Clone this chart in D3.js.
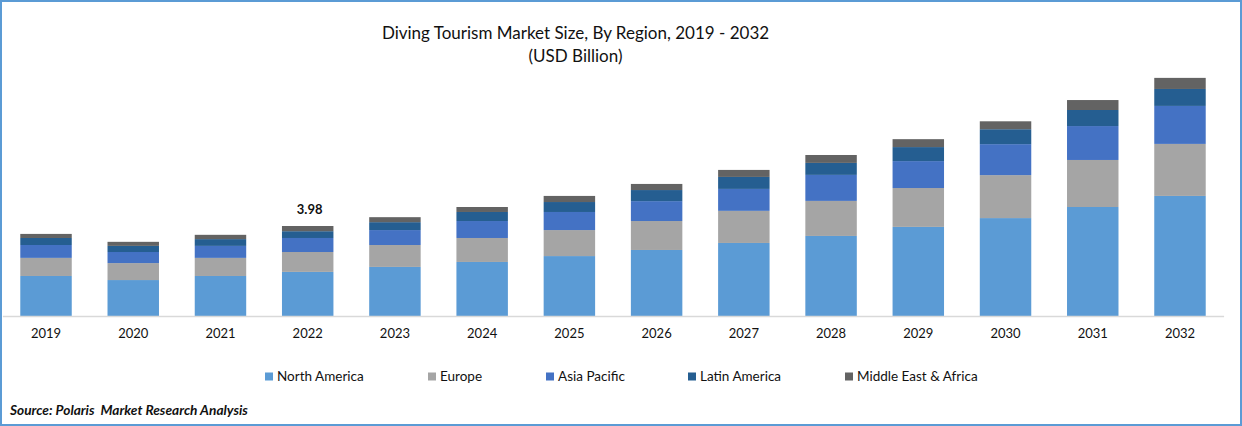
<!DOCTYPE html>
<html><head><meta charset="utf-8">
<script src="https://cdn.jsdelivr.net/npm/d3@7"></script>
<style>html,body{margin:0;padding:0;background:#fff}svg{display:block}text{font-family:Lato,sans-serif;fill:#111}</style>
</head><body><svg id="c" width="1242" height="426"></svg>
<script>
const years = ["2019","2020","2021","2022","2023","2024","2025","2026","2027","2028","2029","2030","2031","2032"];
const regions = ["North America","Europe","Asia Pacific","Latin America","Middle East & Africa"];
const colors = ["#5B9BD5","#A5A5A5","#4472C4","#255E91","#636363"];
const northAmerica = [1.77,1.59,1.77,1.95,2.17,2.39,2.65,2.92,3.23,3.54,3.94,4.33,4.82,5.31];
const europe       = [0.80,0.75,0.80,0.88,0.97,1.06,1.15,1.28,1.42,1.55,1.72,1.90,2.08,2.30];
const asiaPacific  = [0.57,0.49,0.53,0.62,0.66,0.75,0.80,0.88,0.97,1.15,1.19,1.37,1.50,1.68];
const latinAmerica = [0.31,0.27,0.30,0.30,0.35,0.40,0.44,0.49,0.53,0.53,0.62,0.66,0.71,0.75];
const middleEast   = [0.18,0.18,0.19,0.23,0.22,0.22,0.27,0.27,0.31,0.35,0.35,0.35,0.44,0.49];
const seriesValues = [northAmerica,europe,asiaPacific,latinAmerica,middleEast];
const labelYear = "2022", labelText = "3.98";

const svg = d3.select("#c");
svg.append("rect").attr("x",1).attr("y",1).attr("width",1240).attr("height",424)
  .attr("fill","#fff").attr("stroke","#5B9BD5").attr("stroke-width",2);

const x = d3.scaleBand().domain(years).range([2.4,1223.6]).paddingInner(0.41).paddingOuter(0.205);
const y = d3.scaleLinear().domain([0,3.98]).range([316,226]);
const rows = years.map((yr,i)=>{const o={year:yr};regions.forEach((r,j)=>o[r]=seriesValues[j][i]);return o;});
const stacked = d3.stack().keys(regions)(rows);

svg.append("g").selectAll("g").data(stacked).join("g").attr("fill",(d,i)=>colors[i])
  .selectAll("rect").data(d=>d).join("rect")
  .attr("x",d=>x(d.data.year)).attr("width",x.bandwidth())
  .attr("y",d=>y(d[1])).attr("height",d=>y(d[0])-y(d[1]));

const axis = svg.append("g").attr("transform","translate(0,316)")
  .call(d3.axisBottom(x).tickSize(0).tickPadding(0));
axis.select(".domain").attr("stroke","#D9D9D9").attr("stroke-width",1.5);
axis.selectAll("text").attr("y",22).attr("dy",0).attr("font-size",13).style("font-family","Lato,sans-serif");

const top2022 = d3.sum(seriesValues,s=>s[years.indexOf(labelYear)]);
svg.append("text").attr("x",x(labelYear)+x.bandwidth()/2+2).attr("y",y(top2022)-12.5)
  .attr("text-anchor","middle").attr("font-size",13).attr("font-weight",700).text(labelText);

svg.append("text").attr("x",575.5).attr("y",38.5).attr("text-anchor","middle").attr("font-size",17)
  .text("Diving Tourism Market Size, By Region, 2019 - 2032");
svg.append("text").attr("x",575.5).attr("y",62).attr("text-anchor","middle").attr("font-size",17)
  .text("(USD Billion)");

const legendX = [265,428,546,688,845];
const lg = svg.append("g").selectAll("g").data(regions).join("g")
  .attr("transform",(d,i)=>`translate(${legendX[i]},0)`);
lg.append("rect").attr("y",372.5).attr("width",8).attr("height",8).attr("fill",(d,i)=>colors[i]);
lg.append("text").attr("x",12).attr("y",381).attr("font-size",13.5).text(d=>d);

svg.append("text").attr("x",10).attr("y",415).attr("font-size",13.7).attr("font-weight",700)
  .attr("font-style","italic").text("Source: Polaris  Market Research Analysis").style("white-space","pre");
</script></body></html>
